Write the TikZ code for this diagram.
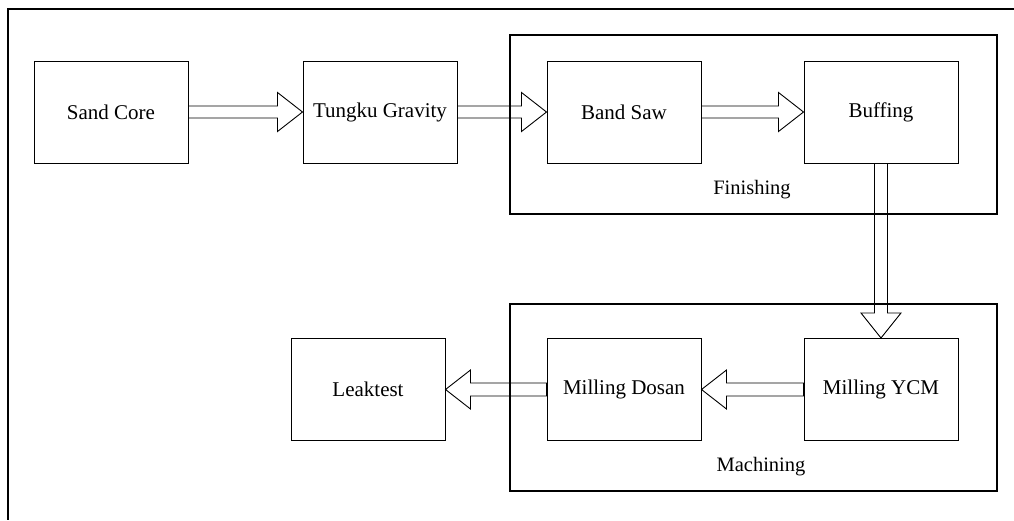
\documentclass[tikz,border=0pt]{standalone}
\usepackage{fontspec}
\setmainfont{Liberation Serif}
\usetikzlibrary{calc}
\begin{document}
\begin{tikzpicture}[x=1pt,y=-1pt,
  procbox/.style={draw, line width=1pt, minimum width=154pt, minimum height=102pt, inner sep=0pt,
    font=\fontsize{21}{25}\selectfont},
  frame/.style={draw, line width=1.3pt},
  grouplabel/.style={font=\fontsize{20.5}{24}\selectfont, inner sep=0pt},
  blockarr/.style={draw, line width=0.9pt, line join=miter}]
\useasboundingbox (0,0) rectangle (1014,520);
% page border fragments
\coordinate (tl) at (8,9);
\coordinate (tr) at (1014,9);
\coordinate (bl) at (8,520);
\draw[line width=1.3pt] (tr) -- (tl) -- (bl);
% group frames
\draw[frame] (510,35) rectangle (997,214);
\draw[frame] (510,304) rectangle (997,491);
% process boxes
\node[procbox] (sand) at (111,112) {Sand Core};
\node[procbox] (tungku) at (380,112) {Tungku Gravity};
\node[procbox] (band) at (624,112) {Band Saw};
\node[procbox] (buff) at (881,112) {Buffing};
\node[procbox] (ycm) at (881,389.5) {Milling YCM};
\node[procbox] (dosan) at (624,389.5) {Milling Dosan};
\node[procbox] (leak) at (368,389.5) {Leaktest};
% group labels
\node[grouplabel] (finlab) at (752,190) {Finishing};
\node[grouplabel] (maclab) at (761,467) {Machining};
% block arrows
\newcommand\arrR[2]{%
  \draw[blockarr] let \p1=(#1.east), \p2=(#2.west) in
    (\x1,\y1+6pt) -- (\x2-25pt,\y1+6pt) -- (\x2-25pt,\y1+19.5pt) -- (\x2,\y1)
    -- (\x2-25pt,\y1-19.5pt) -- (\x2-25pt,\y1-6pt) -- (\x1,\y1-6pt) -- cycle;}
\newcommand\arrL[2]{%
  \draw[blockarr] let \p1=(#1.west), \p2=(#2.east) in
    (\x1,\y1+6.5pt) -- (\x2+25pt,\y1+6.5pt) -- (\x2+25pt,\y1+19.5pt) -- (\x2,\y1)
    -- (\x2+25pt,\y1-19.5pt) -- (\x2+25pt,\y1-6.5pt) -- (\x1,\y1-6.5pt) -- cycle;}
\arrR{sand}{tungku}
\arrR{tungku}{band}
\arrR{band}{buff}
\arrL{ycm}{dosan}
\arrL{dosan}{leak}
\draw[blockarr] let \p1=(buff.south), \p2=(ycm.north) in
    (\x1-6.5pt,\y1) -- (\x1-6.5pt,\y2+25pt) -- (\x1-20pt,\y2+25pt) -- (\x1,\y2)
    -- (\x1+20pt,\y2+25pt) -- (\x1+6.5pt,\y2+25pt) -- (\x1+6.5pt,\y1) -- cycle;
\end{tikzpicture}
\end{document}
